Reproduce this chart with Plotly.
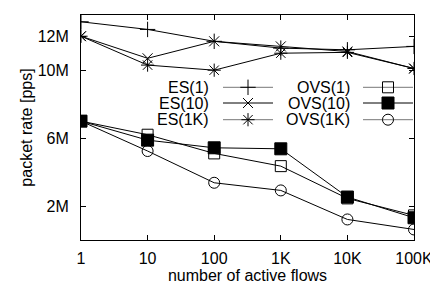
import plotly.graph_objects as go

flows = [1, 10, 100, 1000, 10000, 100000]
x_ticktext = ["1", "10", "100", "1K", "10K", "100K"]

es_1 = [12.85e6, 12.4e6, 11.7e6, 11.3e6, 11.2e6, 11.4e6]
es_10 = [12.0e6, 10.7e6, 11.7e6, 11.4e6, 11.1e6, 10.1e6]
es_1k = [12.0e6, 10.3e6, 10.0e6, 11.0e6, 11.05e6, 10.1e6]
ovs_1 = [7.0e6, 6.2e6, 5.1e6, 4.35e6, 2.45e6, 1.45e6]
ovs_10 = [7.0e6, 5.88e6, 5.43e6, 5.37e6, 2.53e6, 1.31e6]
ovs_1k = [7.0e6, 5.24e6, 3.37e6, 2.92e6, 1.21e6, 0.62e6]

y_tickvals = [2e6, 6e6, 10e6, 12e6]
y_ticktext = ["2M", "6M", "10M", "12M"]

series = [
    ("ES(1)", es_1, "cross-thin-open", 11, "#777"),
    ("ES(10)", es_10, "x-thin-open", 10, "black"),
    ("ES(1K)", es_1k, "asterisk-open", 11, "#777"),
    ("OVS(1)", ovs_1, "square-open", 11, "#777"),
    ("OVS(10)", ovs_10, "square", 12, "black"),
    ("OVS(1K)", ovs_1k, "circle-open", 11, "#777"),
]

FONT = "Liberation Sans, Arial, sans-serif"
FS = 16
L, R, T, B = 73, 32, 7, 53
W, H = 438, 285
pw, ph = W - L - R, H - T - B

fig = go.Figure()
for name, vals, sym, sz, _ in series:
    fig.add_trace(go.Scatter(
        x=flows, y=vals, mode="lines+markers", name=name, showlegend=False,
        line=dict(color="black", width=1),
        marker=dict(symbol=sym, size=sz, color="black",
                    line=dict(color="black", width=1)),
    ))

# custom gnuplot-style legend (text, then sample line with marker)
rows_y = [(H - B - 79.3) / ph, (H - B - 95) / ph, (H - B - 111.7) / ph]
cols = [
    dict(text_x=(203 - L) / pw, l0=(215 - L) / pw, l1=(265 - L) / pw, m=(240 - L) / pw),
    dict(text_x=(344 - L) / pw, l0=(355 - L) / pw, l1=(405 - L) / pw, m=(380 - L) / pw),
]
for i, (name, vals, sym, sz, lc) in enumerate(series):
    c = cols[i // 3]
    ry = rows_y[i % 3]
    fig.add_trace(go.Scatter(
        x=[c["l0"], c["l1"]], y=[ry, ry], mode="lines", showlegend=False,
        line=dict(color=lc, width=1), xaxis="x2", yaxis="y2", hoverinfo="skip",
    ))
    fig.add_trace(go.Scatter(
        x=[c["m"]], y=[ry], mode="markers", showlegend=False,
        marker=dict(symbol=sym, size=sz, color="black", line=dict(color="black", width=1)),
        xaxis="x2", yaxis="y2", hoverinfo="skip",
    ))
    fig.add_annotation(x=c["text_x"], y=ry, xref="x2", yref="y2", text=name,
                       showarrow=False, xanchor="right", yanchor="middle",
                       font=dict(family=FONT, size=FS, color="black"))

fig.update_layout(
    width=W, height=H,
    margin=dict(l=L, r=R, t=T, b=B),
    paper_bgcolor="white", plot_bgcolor="white",
    font=dict(family=FONT, size=FS, color="black"),
    xaxis=dict(
        type="log", range=[0, 5], tickvals=flows, ticktext=x_ticktext,
        ticks="inside", ticklen=5, tickcolor="black", showgrid=False, zeroline=False,
        showline=True, linecolor="black", linewidth=1, mirror="ticks",
        automargin=False, ticklabelstandoff=4,
        title=dict(text="number of active flows", standoff=1, font=dict(size=FS)),
        tickfont=dict(size=FS),
    ),
    yaxis=dict(
        range=[0, 13.25e6], tickvals=y_tickvals, ticktext=y_ticktext,
        ticks="inside", ticklen=5, tickcolor="black", showgrid=False, zeroline=False,
        showline=True, linecolor="black", linewidth=1, mirror="ticks",
        automargin=False, ticklabelstandoff=8,
        title=dict(text="packet rate [pps]", standoff=1, font=dict(size=FS)),
        tickfont=dict(size=FS),
    ),
    xaxis2=dict(overlaying="x", range=[0, 1], visible=False),
    yaxis2=dict(overlaying="y", range=[0, 1], visible=False),
)

fig.write_html("out.html")
